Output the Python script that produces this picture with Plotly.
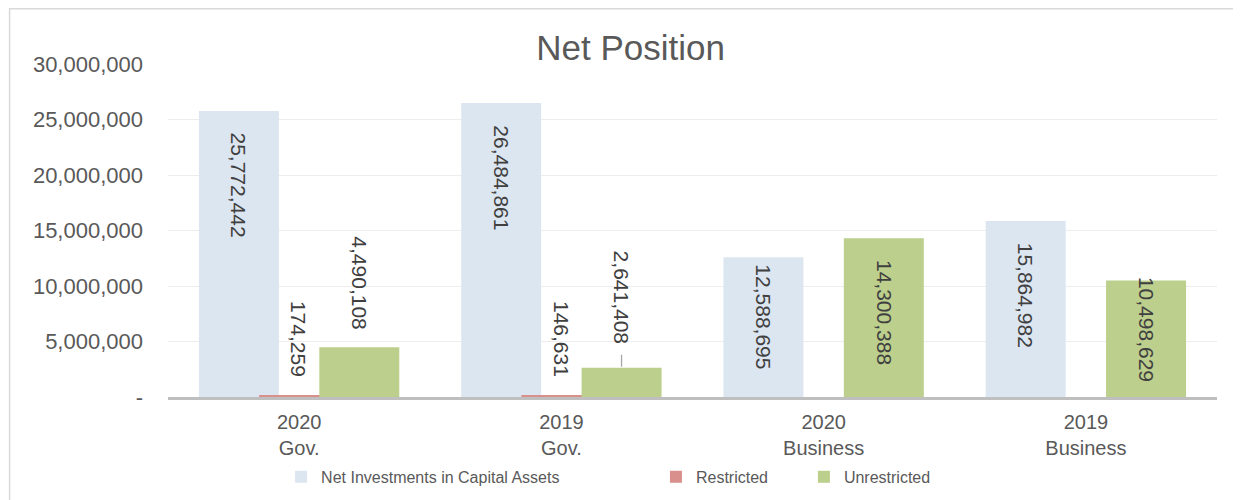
import plotly.graph_objects as go

categories = ["2020<br>Gov.", "2019<br>Gov.", "2020<br>Business", "2019<br>Business"]
net_investments = [25772442, 26484861, 12588695, 15864982]
restricted = [174259, 146631, 0, 0]
unrestricted = [4490108, 2641408, 14300388, 10498629]
y_ticks = [0, 5000000, 10000000, 15000000, 20000000, 25000000, 30000000]
y_ticktext = ["-", "5,000,000", "10,000,000", "15,000,000", "20,000,000", "25,000,000", "30,000,000"]

text_color = "#595959"
label_color = "#404040"
font_family = "Liberation Sans, Arial, sans-serif"
bar_w = 0.305

# name, values, colour, bar offset, legend id, legend x (container)
series = [
    ("Net Investments in Capital Assets", net_investments, "#dce6f1", -0.382, "legend", 0.2215),
    ("Restricted", restricted, "#d9908c", -0.1525, "legend2", 0.5255),
    ("Unrestricted", unrestricted, "#bccf8c", 0.077, "legend3", 0.6455),
]

fig = go.Figure()
for name, vals, color, off, leg, _ in series:
    fig.add_trace(go.Bar(
        x=categories, y=vals, name=name, width=bar_w, offset=off, legend=leg,
        marker=dict(color=color, line=dict(width=0)),
    ))

# data labels, rotated, read top to bottom
for name, vals, color, off, _, _ in series:
    for i, v in enumerate(vals):
        if not v:
            continue
        xc = i + off + bar_w / 2
        inside = v >= 8000000
        leader = name == "Unrestricted" and categories[i] == "2019<br>Gov."
        if inside:
            shift = -20 if v >= 14000000 else (-5 if v >= 12000000 else 6)
        else:
            shift = 22 if leader else 16
        fig.add_annotation(
            x=xc, y=v, xref="x", yref="y", text=f"{v:,}", showarrow=False, textangle=90,
            yanchor="top" if inside else "bottom", yshift=shift,
            font=dict(size=21, color=label_color, family=font_family),
        )
        if leader:
            fig.add_shape(type="line", xref="x", yref="y", x0=xc, x1=xc, ysizemode="pixel", yanchor=v,
                          y0=1, y1=13, line=dict(color="#a6a6a6", width=1.3))

# outer chart border
fig.add_shape(type="rect", xref="paper", yref="paper", x0=-0.151, x1=1.05, y0=-0.35, y1=1.166,
              line=dict(color="#d9d9d9", width=1.5), fillcolor="rgba(0,0,0,0)", layer="below")

legend_style = dict(orientation="h", xref="container", yref="container", xanchor="left",
                    y=0.047, yanchor="middle", font=dict(size=16, color=text_color, family=font_family),
                    bgcolor="rgba(0,0,0,0)", itemwidth=30)

fig.update_layout(
    width=1233, height=492,
    barmode="overlay",
    paper_bgcolor="white", plot_bgcolor="white",
    margin=dict(l=160, r=24, t=56, b=103, autoexpand=False),
    font=dict(family=font_family, color=text_color, size=21),
    title=dict(text="Net Position", x=0.505, xanchor="center", y=0.92, yanchor="middle",
               font=dict(size=35, color=text_color, family=font_family)),
    showlegend=True,
)
for _, _, _, _, leg, lx in series:
    fig.update_layout({leg: dict(legend_style, x=lx)})

fig.update_yaxes(range=[0, 30000000], tickvals=y_ticks, ticktext=y_ticktext, showgrid=True,
                 gridcolor="#ededed", gridwidth=1, zeroline=False, showline=False, automargin=False,
                 ticklabelstandoff=24, tickfont=dict(size=22, color=text_color))
fig.update_xaxes(showline=True, linecolor="#bfbfbf", linewidth=3, showgrid=False, automargin=False,
                 ticklabelstandoff=5, tickfont=dict(size=20, color=text_color))

fig.write_html("out.html")
